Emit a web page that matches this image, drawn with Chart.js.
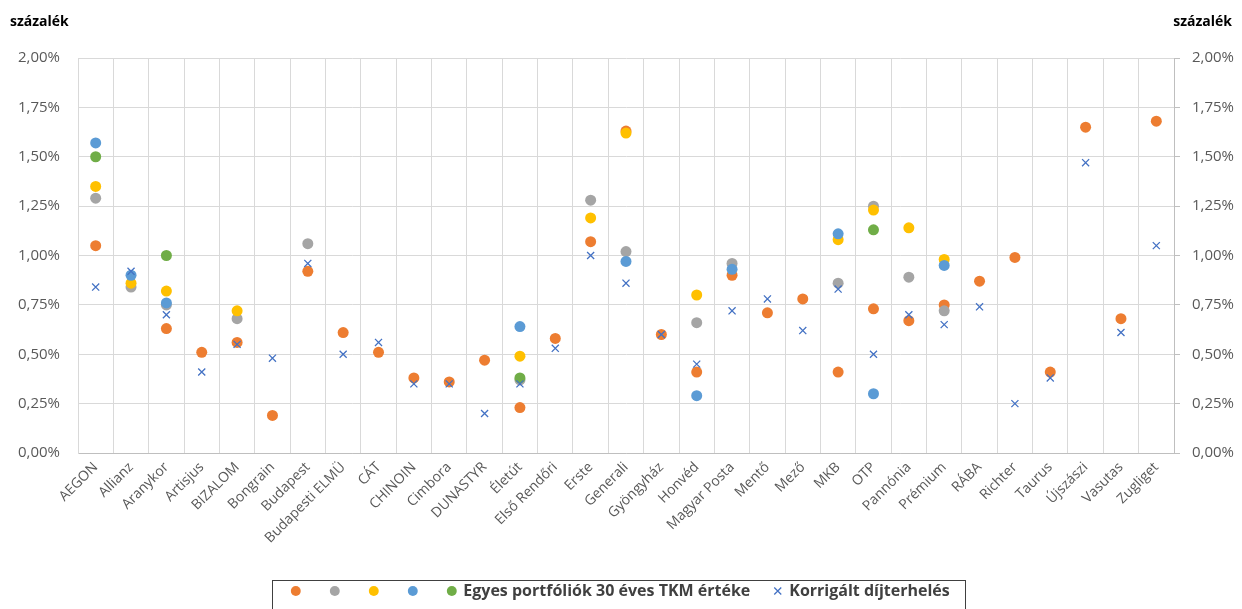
<!DOCTYPE html>
<html>
<head>
<meta charset="utf-8">
<script src="https://cdn.jsdelivr.net/npm/chart.js@4"></script>
<style>
  html, body { margin: 0; padding: 0; background: #fff; }
  #wrap { width: 1242px; height: 609px; }
</style>
</head>
<body>
<div id="wrap"><canvas id="tkm"></canvas></div>
<script>
var funds = ['AEGON', 'Allianz', 'Aranykor', 'Artisjus', 'BIZALOM', 'Bongrain', 'Budapest',
    'Budapesti ELMÜ', 'CÁT', 'CHINOIN', 'Cimbora', 'DUNASTYR', 'Életút', 'Első Rendőri',
    'Erste', 'Generali', 'Gyöngyház', 'Honvéd', 'Magyar Posta', 'Mentő', 'Mező', 'MKB',
    'OTP', 'Pannónia', 'Prémium', 'RÁBA', 'Richter', 'Taurus', 'Újszászi', 'Vasutas', 'Zugliget'];

// portfolio values, one array per portfolio colour (null = no portfolio)
var orangeVals = [1.05, null, 0.63, 0.51, 0.56, 0.19, 0.92, 0.61, 0.51, 0.38, 0.36, 0.47, 0.23, 0.58,
    1.07, 1.63, 0.60, 0.41, 0.90, 0.71, 0.78, 0.41, 0.73, 0.67, 0.75, 0.87, 0.99, 0.41, 1.65, 0.68, 1.68];
var greyVals = [1.29, 0.84, 0.75, null, 0.68, null, 1.06, null, null, null, null, null, 0.37, null,
    1.28, 1.02, null, 0.66, 0.96, null, null, 0.86, 1.25, 0.89, 0.72, null, null, null, null, null, null];
var yellowVals = [1.35, 0.86, 0.82, null, 0.72, null, null, null, null, null, null, null, 0.49, null,
    1.19, 1.62, null, 0.80, null, null, null, 1.08, 1.23, 1.14, 0.98, null, null, null, null, null, null];
var blueVals = [1.57, 0.90, 0.76, null, null, null, null, null, null, null, null, null, 0.64, null,
    null, 0.97, null, 0.29, 0.93, null, null, 1.11, 0.30, null, 0.95, null, null, null, null, null, null];
var greenVals = [1.50, null, 1.00, null, null, null, null, null, null, null, null, null, 0.38, null,
    null, null, null, null, null, null, null, null, 1.13, null, null, null, null, null, null, null, null];
var corrected = [0.84, 0.92, 0.70, 0.41, 0.55, 0.48, 0.96, 0.50, 0.56, 0.35, 0.35, 0.20, 0.35, 0.53,
    1.00, 0.86, 0.60, 0.45, 0.72, 0.78, 0.62, 0.83, 0.50, 0.70, 0.65, 0.74, 0.25, 0.38, 1.47, 0.61, 1.05];

var yTicks = [0, 0.25, 0.5, 0.75, 1, 1.25, 1.5, 1.75, 2];

var FONT = "'Open Sans', 'Liberation Sans', sans-serif";
var TXT = '#595959';
var GRID = '#d9d9d9';

function pct(v) {
    return v.toFixed(2).replace('.', ',') + '%';
}

function dots(label, vals, color) {
    return {
        label: label,
        data: vals,
        showLine: false,
        pointStyle: 'circle',
        pointRadius: 5.5,
        pointHoverRadius: 5.5,
        pointBorderWidth: 0,
        backgroundColor: color,
        borderColor: color,
        pointBackgroundColor: color,
        pointBorderColor: color
    };
}

// draws the two "százalék" captions and the frame round the legend
var extras = {
    id: 'extras',
    afterDraw: function(chart) {
        var ctx = chart.ctx;
        ctx.save();
        ctx.font = 'bold 14px ' + FONT;
        ctx.fillStyle = '#000';
        ctx.textBaseline = 'middle';
        ctx.textAlign = 'left';
        ctx.fillText('százalék', 10, 22);
        ctx.textAlign = 'right';
        ctx.fillText('százalék', 1232, 22);

        var boxes = chart.legend.legendHitBoxes;
        if (boxes && boxes.length) {
            var l = Infinity, r = -Infinity;
            boxes.forEach(function(b) {
                l = Math.min(l, b.left);
                r = Math.max(r, b.left + b.width);
            });
            ctx.strokeStyle = '#404040';
            ctx.lineWidth = 1;
            ctx.strokeRect(Math.round(l - 20) + 0.5, 580.5, Math.round(r - l + 36), 40);
        }
        ctx.restore();
    }
};

new Chart(document.getElementById('tkm'), {
    type: 'line',
    data: {
        labels: funds,
        datasets: [
            {
                label: 'Korrigált díjterhelés',
                data: corrected,
                showLine: false,
                pointStyle: 'crossRot',
                pointRadius: 5,
                pointHoverRadius: 5,
                pointBorderWidth: 1.3,
                borderWidth: 1.3,
                backgroundColor: '#4472c4',
                borderColor: '#4472c4',
                pointBorderColor: '#4472c4'
            },
            dots('Egyes portfóliók 30 éves TKM értéke', greenVals, '#70ad47'),
            dots('', blueVals, '#5b9bd5'),
            dots('', yellowVals, '#ffc000'),
            dots('', greyVals, '#a5a5a5'),
            dots('', orangeVals, '#ed7d31')
        ]
    },
    options: {
        responsive: true,
        maintainAspectRatio: false,
        animation: false,
        layout: {
            padding: { top: 58, right: 0, left: 0, bottom: 0 }
        },
        plugins: {
            tooltip: { enabled: false },
            legend: {
                position: 'bottom',
                reverse: true,
                labels: {
                    usePointStyle: true,
                    boxWidth: 7,
                    boxHeight: 7,
                    padding: 24,
                    color: '#404040',
                    font: { family: FONT, size: 16, weight: 'bold' }
                }
            }
        },
        scales: {
            x: {
                type: 'category',
                offset: true,
                grid: { color: GRID, offset: true, drawTicks: false },
                border: { color: '#bfbfbf' },
                ticks: {
                    autoSkip: false,
                    minRotation: 45,
                    maxRotation: 45,
                    padding: 6,
                    color: TXT,
                    font: { family: FONT, size: 14 }
                },
                afterFit: function(scale) { scale.height = 106; }
            },
            y: {
                position: 'left',
                min: 0,
                max: 2,
                afterBuildTicks: function(scale) {
                    scale.ticks = yTicks.map(function(v) { return { value: v }; });
                },
                grid: { color: GRID, drawTicks: false },
                border: { color: GRID },
                ticks: {
                    padding: 18,
                    color: TXT,
                    font: { family: FONT, size: 15 },
                    callback: function(v) { return pct(v); }
                },
                afterFit: function(scale) { scale.width = 78; }
            },
            y2: {
                position: 'right',
                min: 0,
                max: 2,
                afterBuildTicks: function(scale) {
                    scale.ticks = yTicks.map(function(v) { return { value: v }; });
                },
                grid: { drawOnChartArea: false, color: '#bfbfbf', tickLength: 6 },
                border: { color: '#bfbfbf' },
                ticks: {
                    padding: 12,
                    color: TXT,
                    font: { family: FONT, size: 15 },
                    callback: function(v) { return pct(v); }
                },
                afterFit: function(scale) { scale.width = 68; }
            }
        }
    },
    plugins: [extras]
});
</script>
</body>
</html>
